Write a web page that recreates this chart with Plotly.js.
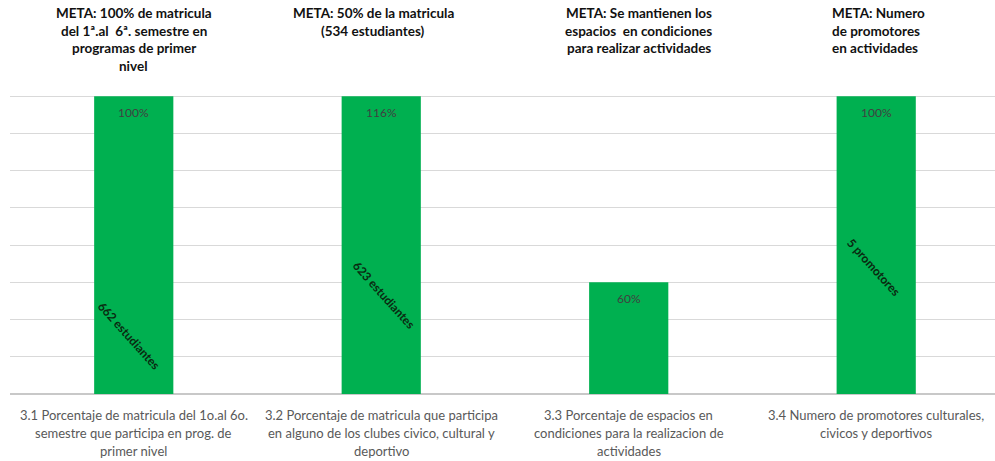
<!DOCTYPE html>
<html><head><meta charset="utf-8">
<script src="https://cdn.plot.ly/plotly-3.0.1.min.js"></script>
<style>html,body{margin:0;padding:0;background:#fff;overflow:hidden}</style>
</head><body><div id="chart" style="width:995px;height:461px"></div>
<script>
// Data
const categories = [
  ["3.1 Porcentaje de matricula del 1o.al 6o.", "semestre que participa en prog. de", "primer nivel"],
  ["3.2 Porcentaje de matricula que participa", "en alguno de los clubes civico, cultural y", "deportivo"],
  ["3.3 Porcentaje de espacios en", "condiciones para la realizacion de", "actividades"],
  ["3.4 Numero de promotores culturales,", "civicos y deportivos"]
];
const values = [8, 8, 3, 8];            // bar heights as drawn (gridline units)
const valueLabels = ["100%", "116%", "60%", "100%"];
const countLabels = ["662 estudiantes", "623 estudiantes", "", "5 promotores"];
const metaTitles = [
  ["META: 100% de matricula", "del 1ª.al  6ª. semestre en", "programas de primer", "nivel"],
  ["META: 50% de la matricula", "(534 estudiantes)"],
  ["META: Se mantienen los", "espacios  en condiciones", "para realizar actividades"],
  ["META: Numero", "de promotores", "en actividades"]
];

// Styling / placement (not data)
const FONT = "Lato, 'Open Sans', sans-serif";
const countLabelY = [1.56, 2.66, 0, 3.41];
const countLabelDx = [-5, 2, 0, -2];
const xs = categories.map((_, i) => i);

const annotations = [];
categories.forEach((lines, i) => {
  lines.forEach((ln, j) => {
    annotations.push({x: i, xref: 'x', y: 0, yref: 'paper', yanchor: 'middle',
      yshift: -21 - 18 * j, text: ln, showarrow: false,
      font: {family: FONT, size: 13, color: '#595959'}});
  });
});
metaTitles.forEach((lines, i) => {
  lines.forEach((ln, j) => {
    const a = {x: i, xref: 'x', y: 1, yref: 'paper', yanchor: 'middle',
      yshift: 46 - 17.5 * j, text: '<b>' + ln + '</b>', showarrow: false,
      font: {family: FONT, size: 13.5, color: '#111'}};
    if (i === 1) a.xshift = -8;
    if (i === 2) a.xshift = 10;
    if (i === 3) { a.xanchor = 'left'; a.xshift = -46; }
    annotations.push(a);
  });
});
values.forEach((v, i) => {
  annotations.push({x: i, xref: 'x', y: v, yref: 'y', yanchor: 'middle', yshift: -16,
    text: valueLabels[i], showarrow: false,
    font: {family: FONT, size: 12, color: '#404040'}});
});
countLabels.forEach((t, i) => {
  if (!t) return;
  annotations.push({x: i, xref: 'x', y: countLabelY[i], yref: 'y', xshift: countLabelDx[i],
    text: '<b>' + t + '</b>', showarrow: false, textangle: 48,
    font: {family: FONT, size: 12, color: '#0a2a10'}});
});

const trace = {
  type: 'bar', x: xs, y: values, width: 0.32,
  marker: {color: '#00B050', line: {width: 0}},
  hoverinfo: 'skip'
};

const layout = {
  width: 995, height: 461,
  margin: {l: 10, r: 0, t: 59, b: 67, pad: 0},
  paper_bgcolor: '#fff', plot_bgcolor: '#fff',
  showlegend: false,
  xaxis: {range: [-0.5, 3.48], showticklabels: false, showgrid: false, zeroline: false,
    showline: false, ticks: '', fixedrange: true},
  yaxis: {range: [0, 9], dtick: 1, showticklabels: false, showgrid: true,
    gridcolor: '#d9d9d9', gridwidth: 1, zeroline: true, zerolinecolor: '#c8c8c8',
    zerolinewidth: 1.5, showline: false, ticks: ''},
  annotations: annotations
};

Plotly.newPlot('chart', [trace], layout, {displayModeBar: false, staticPlot: true});
</script></body></html>
